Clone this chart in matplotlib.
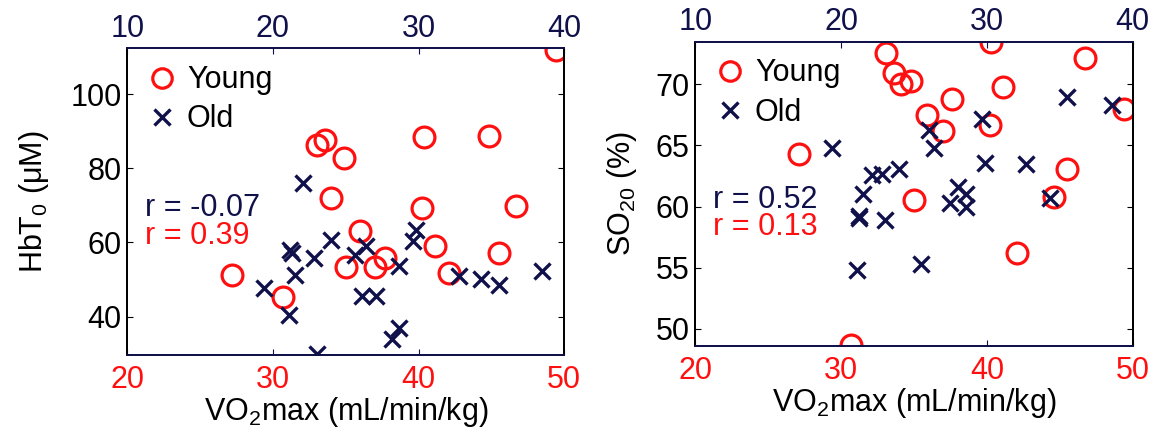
import matplotlib
matplotlib.use("Agg")
import matplotlib.pyplot as plt
from matplotlib.lines import Line2D

plt.rcParams["font.family"] = ["Liberation Sans", "DejaVu Sans"]
plt.rcParams["mathtext.fontset"] = "custom"
plt.rcParams["mathtext.rm"] = "Liberation Sans"
plt.rcParams["mathtext.it"] = "Liberation Sans"
plt.rcParams["mathtext.default"] = "regular"

RED = "#ff1010"
NAVY = "#10104a"
FS = 22

# HbT0 panel
young_vo2_hbt = [49.4, 27.2, 30.7, 33.0, 33.6, 34.9, 34.0, 36.0, 35.0,
                 37.0, 37.7, 40.4, 40.2, 41.1, 42.1, 44.8, 46.7, 45.5]
young_hbt = [112.0, 51.3, 45.2, 86.2, 87.7, 82.8, 72.0, 63.0, 53.3,
             53.3, 55.8, 88.3, 69.3, 58.9, 51.8, 88.8, 69.7, 57.1]
old_vo2_hbt = [22.05, 24.0, 22.8, 21.2, 21.3, 21.5, 19.4, 21.1, 23.0,
               25.6, 26.4, 26.1, 27.1, 28.65, 28.15, 28.65, 29.6, 29.85,
               32.8, 34.25, 35.5, 38.5]
old_hbt = [76.0, 60.7, 55.7, 58.0, 57.2, 51.3, 47.6, 40.4, 30.0,
           56.7, 59.1, 45.5, 45.5, 53.5, 33.8, 36.9, 60.3, 63.4,
           50.9, 50.1, 48.6, 52.2]

# SO2 panel
young_vo2_so2 = [33.1, 33.6, 34.1, 34.8, 40.3, 46.7, 41.1, 37.6, 35.9,
                 37.0, 40.2, 27.1, 35.0, 45.5, 44.6, 42.1, 30.7, 49.4]
young_so2 = [72.6, 70.9, 70.05, 70.3, 73.45, 72.15, 69.8, 68.8, 67.5,
             66.2, 66.7, 64.3, 60.5, 63.1, 60.8, 56.2, 48.7, 68.0]
old_vo2_so2 = [19.4, 26.4, 26.0, 22.1, 22.8, 24.0, 21.5, 21.2, 21.25,
               23.0, 21.1, 25.5, 27.5, 28.05, 28.6, 28.6, 29.65, 29.9,
               32.7, 34.3, 35.5, 38.6]
old_so2 = [64.8, 64.8, 66.25, 62.6, 62.7, 63.05, 61.0, 59.05, 59.2,
           58.9, 54.8, 55.3, 60.3, 61.6, 61.0, 60.0, 67.2, 63.55,
           63.5, 60.7, 68.95, 68.3]


def _panel(fig, rect, young_x, young_y, old_x, old_y, ylim, yticks,
           ylabel, r_old, r_young, ylabelpad):
    ax = fig.add_axes(rect)
    ax.plot(young_x, young_y, "o", mfc="none", mec=RED, ms=15, mew=2.3)
    ax.set_xlim(20, 50)
    ax.set_ylim(*ylim)
    ax.set_xticks([20, 30, 40, 50])
    ax.set_yticks(yticks)
    ax.tick_params(axis="x", colors=NAVY, labelcolor=RED, direction="in",
                   length=4, labelsize=FS, pad=7)
    ax.tick_params(axis="y", direction="in", length=4, labelsize=FS,
                   right=True, pad=4)
    ax.set_ylabel(ylabel, size=FS, labelpad=ylabelpad)
    ax.set_xlabel("VO$_2$max (mL/min/kg)", size=FS, labelpad=0)

    ax2 = ax.twiny()
    ax2.plot(old_x, old_y, "x", color=NAVY, ms=11.5, mew=2.4)
    ax2.set_xlim(10, 40)
    ax2.set_ylim(*ylim)
    ax2.set_xticks([10, 20, 30, 40])
    ax2.tick_params(axis="x", colors=NAVY, labelcolor=NAVY, direction="in",
                    length=4, labelsize=FS, pad=3)

    for a in (ax, ax2):
        a.spines["top"].set_color(NAVY)
        a.spines["bottom"].set_color(NAVY)
        a.spines["left"].set_color("black")
        a.spines["right"].set_color("black")
        for s in a.spines.values():
            s.set_linewidth(1.3)

    handles = [
        Line2D([], [], ls="none", marker="o", mfc="none", mec=RED,
               ms=14, mew=2.3),
        Line2D([], [], ls="none", marker="x", color=NAVY, ms=11, mew=2.4),
    ]
    ax2.legend(handles, ["Young", "Old"], loc="upper left", frameon=False,
               fontsize=FS, handletextpad=0.2, handlelength=1.2,
               labelspacing=0.3, borderaxespad=0.15,
               bbox_to_anchor=(0.0, 1.0))

    ax2.text(0.04, 0.48, r_old, color=NAVY, size=FS, ha="left",
             va="center", transform=ax.transAxes)
    ax2.text(0.04, 0.39, r_young, color=RED, size=FS, ha="left",
             va="center", transform=ax.transAxes)
    return ax


def plot_vo2():
    fig = plt.figure(figsize=(11.54, 4.33), dpi=100)
    _panel(fig, [0.1103, 0.180, 0.3787, 0.708],
           young_vo2_hbt, young_hbt, old_vo2_hbt, old_hbt,
           (29.6, 112.3), [40, 60, 80, 100], "HbT$_0$ (\u03bcM)",
           "r = -0.07", "r = 0.39", 14)
    _panel(fig, [0.6025, 0.201, 0.379, 0.703],
           young_vo2_so2, young_so2, old_vo2_so2, old_so2,
           (48.6, 73.5), [50, 55, 60, 65, 70], "SO$_{20}$ (%)",
           "r = 0.52", "r = 0.13", 12)
    fig.savefig("out.png", dpi=100)


if __name__ == "__main__":
    plot_vo2()
